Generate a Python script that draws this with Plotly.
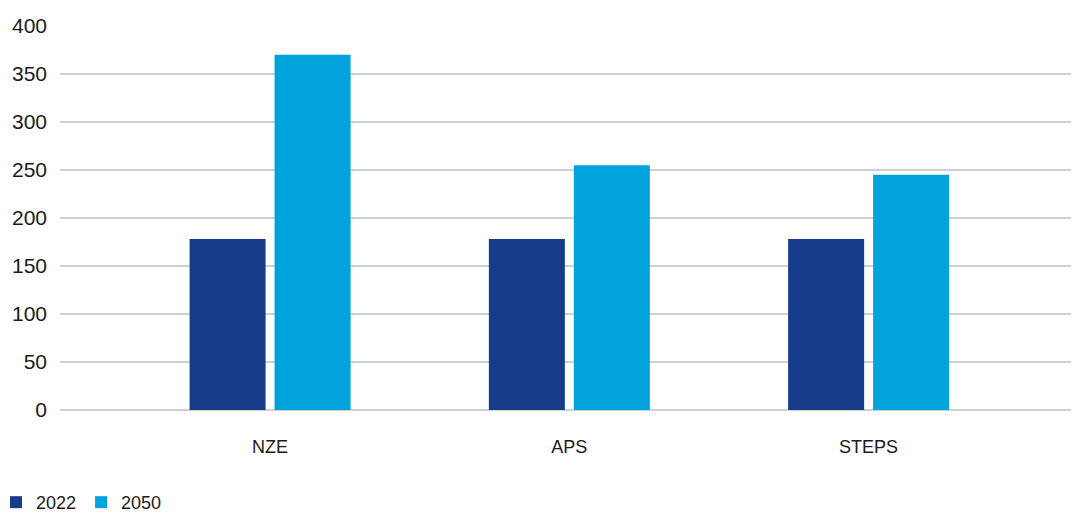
import plotly.graph_objects as go

categories = ["NZE", "APS", "STEPS"]
values_2022 = [178, 178, 178]
values_2050 = [370, 255, 245]
series_names = ["2022", "2050"]
y_tick_values = [0, 50, 100, 150, 200, 250, 300, 350, 400]
y_tick_labels = ["0", "50", "100", "150", "200", "250", "300", "350", "400"]

FS = "\u2007"  # figure space, keeps labels left aligned
padded = [FS * (3 - len(t)) + t for t in y_tick_labels]

BAR_W = 0.254
fig = go.Figure()
fig.add_trace(go.Bar(x=categories, y=values_2022, name=series_names[0],
                     width=BAR_W, offset=-0.269,
                     marker=dict(color="#163C8A", line=dict(width=0))))
fig.add_trace(go.Bar(x=categories, y=values_2050, name=series_names[1],
                     width=BAR_W, offset=0.015,
                     marker=dict(color="#00A3DC", line=dict(width=0))))

# the page body adds an 8px offset, so the figure is 8px smaller each way
fig.update_layout(
    width=1071, height=505,
    margin=dict(l=52, r=0, t=18, b=103, autoexpand=False),
    paper_bgcolor="white", plot_bgcolor="white",
    barmode="group",
    font=dict(family="Liberation Sans, Arial, sans-serif", color="#1a1a1a"),
    showlegend=True,
    legend=dict(orientation="h", xref="paper", x=-0.0628, xanchor="left",
                yref="paper", y=-0.289, yanchor="bottom", font=dict(size=18),
                itemwidth=30, tracegroupgap=0, traceorder="normal"),
)
fig.update_xaxes(range=[-0.702, 2.703], showgrid=False, showline=False,
                 zeroline=False, ticks="", tickfont=dict(size=18),
                 ticklabelstandoff=24, automargin=False)
fig.update_yaxes(range=[0, 400], tickvals=y_tick_values, ticktext=padded,
                 showgrid=True, gridcolor="#CED2D8", gridwidth=2,
                 zeroline=True, zerolinecolor="#CED2D8", zerolinewidth=2,
                 showline=False, ticks="", tickfont=dict(size=21),
                 ticklabelstandoff=12, automargin=False)

fig.write_html("out.html")
